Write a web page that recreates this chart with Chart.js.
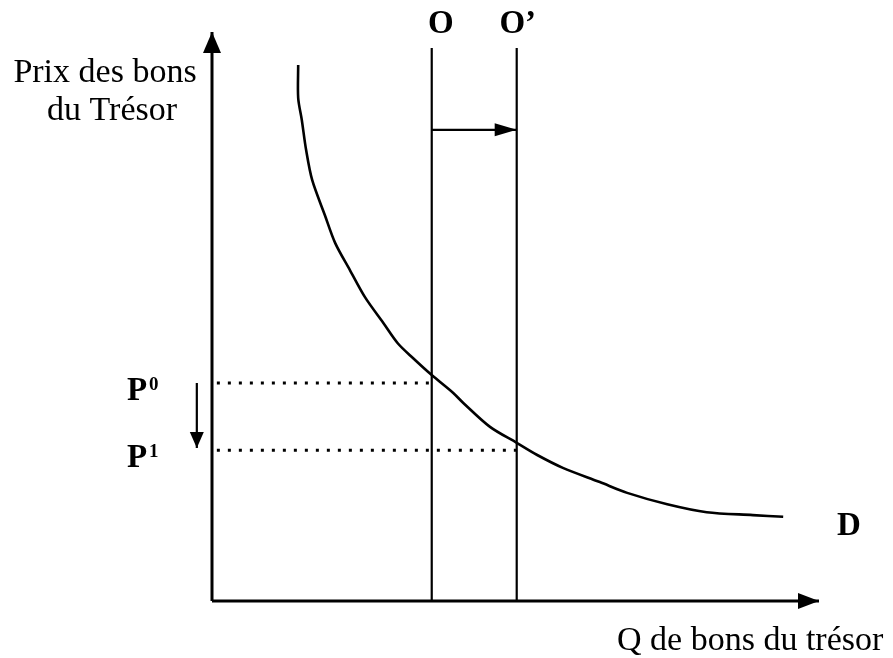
<!DOCTYPE html>
<html>
<head>
<meta charset="utf-8">
<script src="https://cdn.jsdelivr.net/npm/chart.js@4"></script>
<style>
  body { margin: 0; background: #fff; }
  canvas { display: block; }
</style>
</head>
<body>
<canvas id="bondsChart" width="893" height="658"></canvas>
<script>
// Demand curve D (quantity, price)
const demandQ = [14.2, 14.2, 14.8, 15.5, 16.5, 18.6, 20.3, 22.7, 25.2, 28.2, 30.6, 33.1, 36.2, 39.7, 41.4, 45.8, 50.2, 53.5, 57.8, 63.9, 68.4, 75.0, 81.5, 89.1, 94.1];
const demandP = [94.2, 88.4, 84.5, 79.3, 74.0, 67.8, 62.9, 58.2, 53.4, 48.9, 45.3, 42.7, 39.7, 36.6, 34.8, 30.6, 27.8, 25.7, 23.4, 20.9, 19.0, 17.0, 15.6, 15.1, 14.8];

// Vertical supply lines O and O'
const supplyNames = ['O', 'O\u2019'];
const supplyQ = [36.2, 50.2];
const supplyTop = 97.2;
const shiftLevel = 82.8;

// Price levels P0 and P1
const priceNames = ['0', '1'];
const priceLevels = [38.3, 26.5];
const priceArrowX = -2.5;
const priceArrowEnd = 26.9;

// Axis ranges
const axisMax = 100;

const black = '#000';

function line(points, width, dash) {
  return {
    data: points,
    showLine: true,
    borderColor: black,
    borderWidth: width,
    borderDash: dash || [],
    pointRadius: 0,
    tension: 0,
    clip: false
  };
}

const datasets = [
  line([{ x: 0, y: 0 }, { x: 0, y: axisMax }], 3),              // 0 y axis
  line([{ x: 0, y: 0 }, { x: axisMax, y: 0 }], 3),              // 1 x axis
  line([{ x: supplyQ[0], y: shiftLevel }, { x: supplyQ[1], y: shiftLevel }], 2.2), // 2 shift arrow
  line([{ x: priceArrowX, y: priceLevels[0] }, { x: priceArrowX, y: priceArrowEnd }], 2.2), // 3 price arrow
];

// Supply lines
supplyQ.forEach(q => datasets.push(line([{ x: q, y: 0 }, { x: q, y: supplyTop }], 2.2)));

// Dotted price lines, from the axis to the matching supply line
priceLevels.forEach((p, i) => datasets.push(line([{ x: 0.8, y: p }, { x: supplyQ[i], y: p }], 3, [3, 8])));

// Demand curve
const demand = line(demandQ.map((q, i) => ({ x: q, y: demandP[i] })), 2.6);
demand.tension = 0.3;
datasets.push(demand);

// Arrowheads at the end of some datasets: [dataset index, length, width]
const heads = [[0, 21, 18], [1, 21, 16], [2, 22, 13], [3, 16, 14]];

const annotate = {
  id: 'annotate',
  afterDatasetsDraw(chart) {
    const ctx = chart.ctx;
    const xs = chart.scales.x, ys = chart.scales.y;
    ctx.save();
    ctx.fillStyle = black;

    // Arrowheads
    heads.forEach(([idx, len, wid]) => {
      const pts = chart.data.datasets[idx].data;
      const a = pts[pts.length - 2], b = pts[pts.length - 1];
      const ax = xs.getPixelForValue(a.x), ay = ys.getPixelForValue(a.y);
      const bx = xs.getPixelForValue(b.x), by = ys.getPixelForValue(b.y);
      const ang = Math.atan2(by - ay, bx - ax);
      ctx.save();
      ctx.translate(bx, by);
      ctx.rotate(ang);
      ctx.beginPath();
      ctx.moveTo(0, 0);
      ctx.lineTo(-len, -wid / 2);
      ctx.lineTo(-len, wid / 2);
      ctx.closePath();
      ctx.fill();
      ctx.restore();
    });

    ctx.textBaseline = 'alphabetic';

    // Axis titles
    ctx.font = '34px "Liberation Serif", serif';
    ctx.textAlign = 'center';
    ctx.fillText('Prix des bons', 105, 82);
    ctx.fillText('du Tr\u00e9sor', 112, 120);
    ctx.textAlign = 'left';
    ctx.fillText('Q de bons du tr\u00e9sor', 617, 650);

    // Supply labels above the lines
    ctx.font = 'bold 33px "Liberation Serif", serif';
    ctx.textAlign = 'center';
    supplyQ.forEach((q, i) => {
      const x = xs.getPixelForValue(q);
      ctx.fillText(supplyNames[i], x + (i === 0 ? 9 : 1), 33);
    });

    // Price labels with superscripts
    ctx.textAlign = 'left';
    priceLevels.forEach((p, i) => {
      const y = ys.getPixelForValue(p);
      const base = y + 17;
      ctx.font = 'bold 33px "Liberation Serif", serif';
      ctx.fillText('P', 127, base);
      ctx.font = 'bold 19px "Liberation Serif", serif';
      ctx.fillText(priceNames[i], 149, base - 10);
    });

    // Demand label
    ctx.font = 'bold 33px "Liberation Serif", serif';
    ctx.fillText('D', 837, 535);

    ctx.restore();
  }
};

new Chart(document.getElementById('bondsChart'), {
  type: 'scatter',
  data: { datasets: datasets },
  options: {
    responsive: false,
    animation: false,
    events: [],
    layout: { padding: { left: 212, right: 74, top: 32, bottom: 57 } },
    plugins: { legend: { display: false }, tooltip: { enabled: false } },
    scales: {
      x: { type: 'linear', min: 0, max: axisMax, display: false },
      y: { type: 'linear', min: 0, max: axisMax, display: false }
    }
  },
  plugins: [annotate]
});
</script>
</body>
</html>
